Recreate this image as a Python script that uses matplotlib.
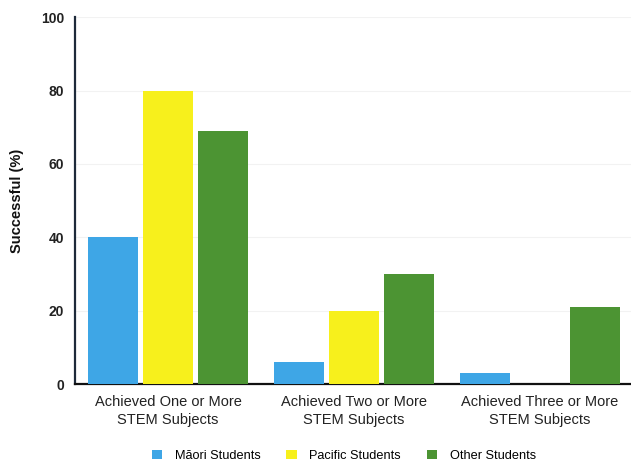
import matplotlib
matplotlib.use("Agg")
import matplotlib.pyplot as plt
import numpy as np

plt.rcParams['font.family'] = ['Liberation Sans', 'DejaVu Sans']

categories = ["Achieved One or More\nSTEM Subjects",
              "Achieved Two or More\nSTEM Subjects",
              "Achieved Three or More\nSTEM Subjects"]
series_names = ["Māori Students", "Pacific Students", "Other Students"]
maori = [40, 6, 3]
pacific = [80, 20, 0]
other = [69, 30, 21]
yticks = [0, 20, 40, 60, 80, 100]

colors = ["#3ea6e6", "#f7f01c", "#4c9433"]

fig = plt.figure(figsize=(6.31, 4.65), dpi=100)
ax = fig.add_axes([0.119, 0.174, 0.881, 0.789])

x = np.arange(len(categories))
width = 0.268
step = 0.296
for i, (vals, name) in enumerate(zip([maori, pacific, other], series_names)):
    ax.bar(x + (i - 1) * step, vals, width, color=colors[i], label=name, zorder=3)

ax.set_xlim(-0.5, 2.49)
ax.set_ylim(0, 100)
ax.set_yticks(yticks)
ax.set_yticklabels([str(t) for t in yticks], fontweight='bold', fontsize=10, color='#222222')
ax.set_xticks(x)
ax.set_xticklabels(categories, fontsize=10.5, color='#222222', linespacing=1.3)
ax.tick_params(axis='both', length=0)
ax.tick_params(axis='y', pad=8)
ax.tick_params(axis='x', pad=8)

for s in ['top', 'right']:
    ax.spines[s].set_visible(False)
ax.spines['left'].set_color('#1e2a3a')
ax.spines['left'].set_linewidth(1.6)
ax.spines['bottom'].set_color('#111111')
ax.spines['bottom'].set_linewidth(1.6)

ax.yaxis.grid(True, color='#f2f2f2', linewidth=0.8, zorder=0)

ax.set_ylabel("Successful (%)", fontweight='bold', fontsize=10.5, labelpad=12, color='#111111')

fig.legend(loc='lower center', bbox_to_anchor=(0.545, -0.018), ncol=3, frameon=False,
           fontsize=9.2, handlelength=0.8, handleheight=0.8, columnspacing=2.0,
           handletextpad=1.0)

fig.savefig("out.png", dpi=100)
